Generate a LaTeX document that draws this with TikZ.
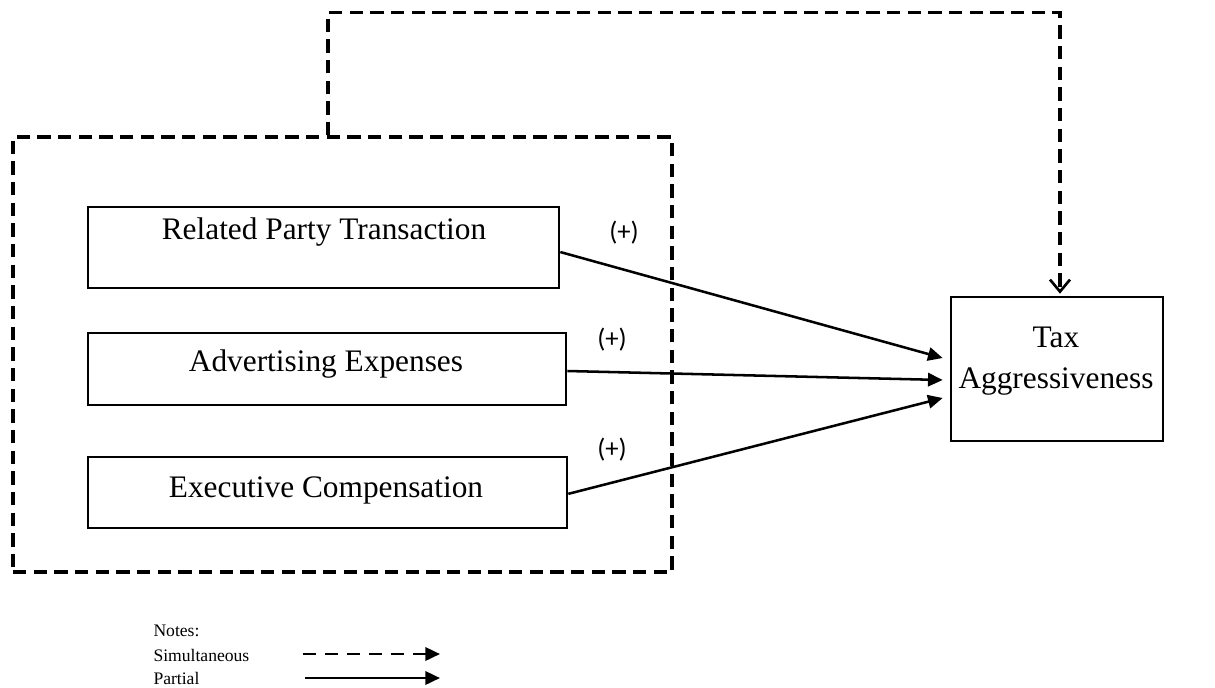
\documentclass[tikz,border=0pt]{standalone}
\usepackage{fontspec}
\setmainfont{Liberation Serif}
\newfontfamily\signfont{Carlito}
\usetikzlibrary{arrows.meta}

\tikzset{every picture/.style={line width=0.75pt}}
\tikzset{
  varbox/.style={draw, line width=2pt, inner sep=0pt},
  grpbox/.style={draw, line width=2.4pt, dash pattern=on 10pt off 5.5pt, inner sep=0pt},
  boxtext/.style={inner sep=0.75pt, font=\fontsize{23.5}{31}\selectfont, align=center},
  notetext/.style={anchor=west, inner sep=0.75pt, font=\fontsize{13.2}{15}\selectfont},
  signtext/.style={inner sep=0.75pt, font=\signfont\fontsize{20}{24}\selectfont},
  partial/.style={line width=1.9pt, -{Triangle[length=11pt,width=10pt]}},
  simul/.style={line width=2.4pt, dash pattern=on 10pt off 5.5pt, -{Straight Barb[length=9pt,width=15pt,line width=2pt]}},
}

\begin{document}
\begin{tikzpicture}[x=0.75pt,y=0.75pt,yscale=-1,xscale=1]
\useasboundingbox (0,0) rectangle (1215,687);

%Dashed group
\node [grpbox, minimum width=494.25pt, minimum height=326.25pt] (grp) at (342.5,354.5) {};

%Shapes
\node [varbox, minimum width=353.25pt, minimum height=60.75pt] (rpt) at (323.5,247.5) {};
\node [varbox, minimum width=358.5pt, minimum height=54pt] (adv) at (327,369) {};
\node [varbox, minimum width=359.25pt, minimum height=53.25pt] (exe) at (327.5,492.5) {};
\node [varbox, minimum width=159pt, minimum height=108pt] (tax) at (1057,369) {};

% Text Node
\node [boxtext] (rpttext) at (324,232) {Related Party Transaction};
% Text Node
\node [boxtext] (advtext) at (326,364) {Advertising Expenses};
% Text Node
\node [boxtext] (exetext) at (326,490) {Executive Compensation};
% Text Node
\node [boxtext] (taxtext) at (1056,361) {Tax\\Aggressiveness};

%Straight Lines
\draw [partial] ([yshift=3.4pt]rpt.east) -- ([xshift=-5.25pt,yshift=-8.25pt]tax.west);
\draw [partial] ([yshift=1.5pt]adv.east) -- ([xshift=-5.25pt,yshift=8.25pt]tax.west);
\draw [partial] ([yshift=1pt]exe.east) -- ([xshift=-5.25pt,yshift=21.75pt]tax.west);
%Dashed Lines
\draw [simul] ([xshift=-10.9pt]grp.north) -- ++(0,-123) -| ([xshift=2.25pt,yshift=-1.5pt]tax.north);

% Text Node
\node [signtext] (sign1) at (624,233) {(+)};
% Text Node
\node [signtext] (sign2) at (612,340) {(+)};
% Text Node
\node [signtext] (sign3) at (612,450) {(+)};

%Legend
\node [notetext] (notes) at (152,631) {Notes:};
\node [notetext] (simtext) at (152,655) {Simultaneous};
\node [notetext] (partext) at (152,678) {Partial};
\coordinate (sim0) at (303,654);
\coordinate (sim1) at (440,654);
\coordinate (par0) at (305,678);
\coordinate (par1) at (440,678);
\draw [line width=1.9pt, dash pattern=on 10pt off 6.5pt, -{Triangle[length=11pt,width=10pt]}] (sim0) -- (sim1);
\draw [partial] (par0) -- (par1);

\end{tikzpicture}
\end{document}
